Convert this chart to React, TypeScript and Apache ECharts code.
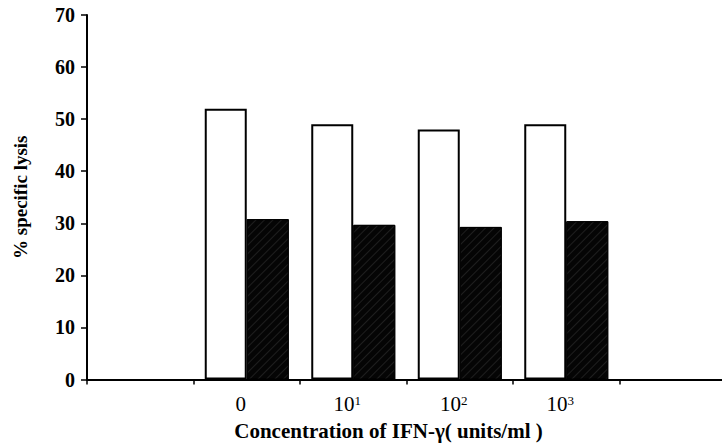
import React, { useEffect, useRef } from "react";
import * as echarts from "echarts";

const categories = ["", "0", "10^1", "10^2", "10^3", ""];
const untreated = [null, 52, 49, 48, 49, null];
const treated = [null, 30.8, 29.7, 29.3, 30.4, null];
const yTicks = { min: 0, max: 70, interval: 10 };
const xTitle = "Concentration of IFN-\u03b3( units/ml )";
const yTitle = "% specific lysis";

const serif = "'Liberation Serif', 'DejaVu Serif', serif";

export default function App() {
  const ref = useRef<HTMLDivElement>(null);
  useEffect(() => {
    if (!ref.current) return;
    const chart = echarts.init(ref.current, undefined, { renderer: "svg" });
    chart.setOption({
      animation: false,
      backgroundColor: "#ffffff",
      grid: {
        left: 87,
        top: 15,
        width: 639,
        height: 364.5,
        containLabel: false,
        outerBoundsMode: "none",
      },
      xAxis: {
        type: "category",
        data: categories,
        name: xTitle,
        nameLocation: "middle",
        nameGap: 41,
        nameMoveOverlap: false,
        nameTextStyle: {
          fontFamily: serif,
          fontWeight: "bold",
          fontSize: 21,
          lineHeight: 20,
          color: "#000",
          padding: [0, 36, 0, 0],
        },
        axisLine: { lineStyle: { color: "#000", width: 2 } },
        axisTick: { show: true, inside: false, length: 5, lineStyle: { color: "#000", width: 1.5 } },
        axisLabel: {
          interval: 0,
          margin: 14,
          padding: [0, 12, 0, 0],
          formatter: (v: string) => {
            const m = v.match(/^(\d+)\^(\d+)$/);
            return m ? `{base|${m[1]}}{sup|${m[2]}}` : `{base|${v}}`;
          },
          rich: {
            base: { fontFamily: serif, fontSize: 21, color: "#000", lineHeight: 20 },
            sup: { fontFamily: serif, fontSize: 13, color: "#000", lineHeight: 20, verticalAlign: "top", padding: [0, 0, 12, 0] },
          },
        },
        splitLine: { show: false },
      },
      yAxis: {
        type: "value",
        min: yTicks.min,
        max: yTicks.max,
        interval: yTicks.interval,
        name: yTitle,
        nameLocation: "middle",
        nameGap: 57,
        nameMoveOverlap: false,
        nameTextStyle: { fontFamily: serif, fontWeight: "bold", fontSize: 19, color: "#000" },
        axisLine: { show: true, lineStyle: { color: "#000", width: 2 } },
        axisTick: { show: true, inside: false, length: 6, lineStyle: { color: "#000", width: 1.5 } },
        axisLabel: { fontFamily: serif, fontWeight: "bold", fontSize: 20, color: "#000", margin: 12 },
        splitLine: { show: false },
      },
      series: [
        {
          type: "bar",
          data: untreated,
          barWidth: 42,
          barGap: "0%",
          itemStyle: { color: "#ffffff", borderColor: "#000", borderWidth: 2 },
        },
        {
          type: "bar",
          data: treated,
          barWidth: 42,
          barGap: "0%",
          itemStyle: {
            color: "#050505",
            borderColor: "#000",
            borderWidth: 1,
            decal: {
              symbol: "rect",
              symbolSize: 1,
              dashArrayX: [1, 0],
              dashArrayY: [1, 5],
              rotation: -Math.PI / 4,
              color: "rgba(90,90,90,0.3)",
            },
          },
        },
      ],
    });
    return () => chart.dispose();
  }, []);
  return (
    <div
      ref={ref}
      style={{ position: "fixed", left: 0, top: 0, width: 722, height: 448, background: "#fff" }}
    />
  );
}
